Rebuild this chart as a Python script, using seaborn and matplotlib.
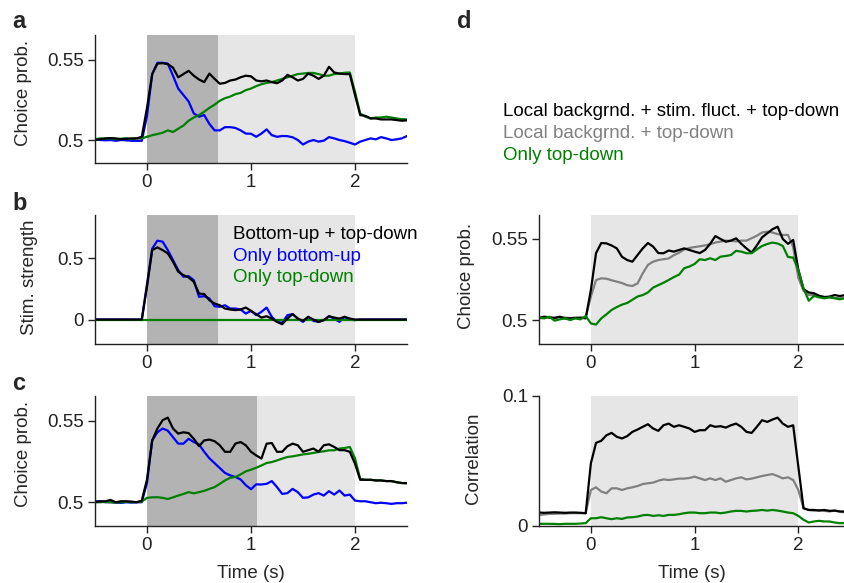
import numpy as np
import matplotlib.pyplot as plt
import seaborn as sns

# time axis (s), sampled every 50 ms
time = np.round(np.arange(-0.5, 2.501, 0.05), 2)

# panel a: choice probability
a_black = [0.500, 0.5005, 0.501, 0.5012, 0.501, 0.5005, 0.5008, 0.501, 0.501, 0.502,
           0.520, 0.541, 0.5475, 0.5478, 0.5472, 0.545, 0.539, 0.541, 0.543, 0.540,
           0.5376, 0.536, 0.5413, 0.538, 0.535, 0.5355, 0.537, 0.5376, 0.539, 0.540,
           0.5396, 0.537, 0.5365, 0.537, 0.536, 0.5353, 0.537, 0.5405, 0.539, 0.537,
           0.538, 0.5413, 0.540, 0.538, 0.540, 0.5455, 0.542, 0.5413, 0.541, 0.541,
           0.528, 0.5155, 0.515, 0.5134, 0.5134, 0.5128, 0.5128, 0.5128, 0.5124, 0.512, 0.5122]
a_blue = [0.5005, 0.500, 0.4998, 0.500, 0.4995, 0.500, 0.4998, 0.4995, 0.4995, 0.4995,
          0.515, 0.541, 0.548, 0.548, 0.5475, 0.540, 0.532, 0.528, 0.524, 0.5165,
          0.5145, 0.5155, 0.510, 0.506, 0.506, 0.508, 0.508, 0.5075, 0.506, 0.504,
          0.5039, 0.502, 0.504, 0.5066, 0.503, 0.502, 0.5025, 0.5024, 0.5017, 0.500,
          0.4972, 0.499, 0.500, 0.499, 0.4996, 0.5018, 0.501, 0.500, 0.4993, 0.4983,
          0.4972, 0.499, 0.500, 0.501, 0.5004, 0.5018, 0.501, 0.500, 0.5004, 0.501, 0.5025]
a_green = [0.5005, 0.501, 0.5008, 0.501, 0.5005, 0.5008, 0.501, 0.5005, 0.501, 0.501,
           0.502, 0.503, 0.5037, 0.5045, 0.506, 0.505, 0.507, 0.509, 0.512, 0.514,
           0.5155, 0.5176, 0.520, 0.522, 0.5244, 0.526, 0.527, 0.5285, 0.5293, 0.531,
           0.532, 0.5335, 0.5347, 0.5355, 0.536, 0.537, 0.538, 0.539, 0.540, 0.541,
           0.5413, 0.5417, 0.5417, 0.541, 0.540, 0.540, 0.541, 0.5413, 0.5418, 0.542,
           0.530, 0.5165, 0.5145, 0.5134, 0.514, 0.514, 0.5145, 0.514, 0.5134, 0.513, 0.5128]

# panel b: stimulus strength
b_black = [0.0] * 10 + [
           0.27, 0.568, 0.59, 0.568, 0.541, 0.473, 0.391, 0.363, 0.344, 0.309,
           0.213, 0.208, 0.158, 0.131, 0.117, 0.09, 0.082, 0.077, 0.082, 0.098,
           0.071, 0.044, 0.016, 0.027, 0.008, -0.019, -0.038, 0.008, 0.044, 0.008,
           -0.011, 0.022, 0.0, -0.019, -0.005, 0.027, 0.016, 0.008, 0.022, 0.008] + [0.0] * 11
b_blue = [0.0] * 10 + [
          0.29, 0.58, 0.645, 0.637, 0.568, 0.486, 0.404, 0.35, 0.355, 0.322,
          0.186, 0.191, 0.172, 0.109, 0.104, 0.117, 0.09, 0.09, 0.082, 0.049,
          0.071, 0.036, 0.063, 0.098, 0.022, -0.019, -0.027, 0.036, 0.044, 0.008,
          -0.019, 0.022, -0.011, -0.019, -0.005, 0.027, 0.008, -0.019, 0.022, 0.0] + [-0.005] + [0.0] * 10
b_green = [0.0] * 61

# panel c: choice probability
c_black = [0.500, 0.5005, 0.5006, 0.5014, 0.500, 0.5006, 0.5006, 0.5004, 0.500, 0.501,
           0.514, 0.538, 0.5453, 0.5504, 0.552, 0.5453, 0.5422, 0.543, 0.5425, 0.539,
           0.5345, 0.538, 0.5385, 0.5375, 0.535, 0.531, 0.531, 0.536, 0.537, 0.535,
           0.531, 0.5288, 0.5268, 0.536, 0.5364, 0.531, 0.531, 0.5344, 0.536, 0.535,
           0.531, 0.532, 0.533, 0.531, 0.535, 0.5356, 0.534, 0.532, 0.532, 0.531,
           0.5237, 0.5138, 0.5138, 0.5138, 0.5134, 0.5134, 0.513, 0.513, 0.5123, 0.5118, 0.5117]
c_blue = [0.5006, 0.5006, 0.500, 0.500, 0.4998, 0.4996, 0.500, 0.4998, 0.500, 0.500,
          0.512, 0.538, 0.543, 0.5453, 0.544, 0.540, 0.536, 0.536, 0.539, 0.537,
          0.5355, 0.531, 0.527, 0.524, 0.521, 0.518, 0.5165, 0.5155, 0.514, 0.5105,
          0.508, 0.511, 0.5109, 0.5113, 0.513, 0.5093, 0.5051, 0.5056, 0.5082, 0.5062,
          0.5027, 0.503, 0.5047, 0.5056, 0.5041, 0.5068, 0.5047, 0.5072, 0.5041, 0.5047,
          0.501, 0.5006, 0.5006, 0.500, 0.4994, 0.4997, 0.4994, 0.499, 0.4994, 0.4994, 0.4997]
c_green = [0.500, 0.500, 0.5002, 0.500, 0.4998, 0.500, 0.5002, 0.500, 0.500, 0.5004,
           0.5027, 0.503, 0.5031, 0.5027, 0.502, 0.503, 0.5041, 0.5051, 0.5062, 0.5055,
           0.5062, 0.507, 0.5082, 0.5093, 0.5113, 0.5134, 0.515, 0.5155, 0.5171, 0.519,
           0.520, 0.5212, 0.5226, 0.5241, 0.5247, 0.5257, 0.5268, 0.5278, 0.5282, 0.5288,
           0.5294, 0.5298, 0.5303, 0.5309, 0.5313, 0.5319, 0.5319, 0.533, 0.5333, 0.534,
           0.527, 0.5144, 0.5138, 0.5138, 0.5134, 0.5134, 0.513, 0.513, 0.5123, 0.5118, 0.5117]

# panel d (top): choice probability
d1_black = [0.501, 0.502, 0.5015, 0.5012, 0.502, 0.501, 0.501, 0.5012, 0.5015, 0.501,
            0.5185, 0.5413, 0.5475, 0.5473, 0.546, 0.5442, 0.539, 0.537, 0.536, 0.5401,
            0.5442, 0.5475, 0.5453, 0.5413, 0.5412, 0.5429, 0.5422, 0.5432, 0.5442, 0.5432,
            0.5422, 0.5413, 0.5432, 0.547, 0.5518, 0.550, 0.5483, 0.549, 0.5504, 0.547,
            0.5442, 0.5416, 0.546, 0.551, 0.5535, 0.556, 0.5576, 0.550, 0.547, 0.5494,
            0.531, 0.519, 0.517, 0.5165, 0.515, 0.514, 0.5145, 0.5154, 0.5148, 0.5154, 0.516]
d1_gray = [0.5015, 0.502, 0.5018, 0.5015, 0.502, 0.5015, 0.5012, 0.5015, 0.5012, 0.5015,
           0.5144, 0.5247, 0.5257, 0.5255, 0.5245, 0.5237, 0.5228, 0.5215, 0.521, 0.5226,
           0.5288, 0.534, 0.536, 0.537, 0.5375, 0.538, 0.540, 0.5415, 0.5435, 0.5445,
           0.545, 0.5455, 0.546, 0.5468, 0.5478, 0.5484, 0.549, 0.5488, 0.5485, 0.549,
           0.549, 0.5505, 0.552, 0.554, 0.5545, 0.554, 0.553, 0.5525, 0.5525, 0.545,
           0.526, 0.518, 0.5154, 0.5154, 0.5148, 0.5144, 0.514, 0.5136, 0.5134, 0.514, 0.514]
d1_green = [0.5014, 0.501, 0.502, 0.4996, 0.5004, 0.501, 0.500, 0.501, 0.5004, 0.5025,
            0.4979, 0.4972, 0.501, 0.5035, 0.5062, 0.508, 0.5095, 0.5105, 0.5125, 0.5145,
            0.5154, 0.517, 0.520, 0.5215, 0.523, 0.5247, 0.5265, 0.528, 0.532, 0.533,
            0.5346, 0.5375, 0.537, 0.5381, 0.537, 0.5391, 0.5395, 0.5401, 0.5427, 0.5422,
            0.5412, 0.5412, 0.5436, 0.5457, 0.5469, 0.5478, 0.5472, 0.5457, 0.5389, 0.5385,
            0.5308, 0.5195, 0.5119, 0.5148, 0.514, 0.5134, 0.514, 0.5134, 0.5128, 0.5134, 0.513]

# panel d (bottom): correlation
d2_black = [0.0100, 0.0098, 0.0100, 0.0102, 0.0100, 0.0098, 0.0100, 0.0100, 0.0098, 0.0095,
            0.048, 0.0638, 0.0654, 0.0697, 0.0715, 0.0685, 0.0672, 0.069, 0.0723, 0.0741,
            0.0762, 0.0782, 0.0749, 0.0731, 0.0774, 0.0787, 0.0762, 0.0774, 0.0762, 0.0749,
            0.0723, 0.0736, 0.0736, 0.0774, 0.0762, 0.0767, 0.0756, 0.0774, 0.0787, 0.0762,
            0.0723, 0.0715, 0.0762, 0.0813, 0.080, 0.0818, 0.0833, 0.0787, 0.0762, 0.0774,
            0.0454, 0.0133, 0.012, 0.012, 0.0115, 0.012, 0.0113, 0.0115, 0.0108, 0.0108, 0.0106]
d2_gray = [0.0082, 0.0085, 0.009, 0.009, 0.0092, 0.0092, 0.0095, 0.0095, 0.0095, 0.0095,
           0.0274, 0.0295, 0.0262, 0.0249, 0.0287, 0.0287, 0.0274, 0.0287, 0.0295, 0.0305,
           0.032, 0.0326, 0.0331, 0.0346, 0.0356, 0.0351, 0.0356, 0.0362, 0.0362, 0.0367,
           0.0377, 0.0364, 0.0351, 0.0364, 0.0351, 0.0364, 0.0338, 0.0351, 0.0364, 0.0372,
           0.0356, 0.0362, 0.0372, 0.0382, 0.039, 0.0397, 0.0382, 0.0364, 0.0372, 0.0351,
           0.0274, 0.0133, 0.012, 0.0115, 0.012, 0.0113, 0.0108, 0.0115, 0.0108, 0.0100, 0.0100]
d2_green = [0.0013, 0.0013, 0.0013, 0.0012, 0.001, 0.0013, 0.0013, 0.0013, 0.0015, 0.0018,
            0.0056, 0.0056, 0.0064, 0.0056, 0.0049, 0.0056, 0.0051, 0.0062, 0.0064, 0.0069,
            0.0079, 0.0082, 0.0074, 0.0079, 0.0074, 0.0082, 0.0082, 0.0087, 0.0095, 0.010,
            0.010, 0.0095, 0.0095, 0.010, 0.010, 0.0095, 0.010, 0.0108, 0.0113, 0.0113,
            0.0108, 0.0113, 0.0115, 0.012, 0.0115, 0.012, 0.0115, 0.0108, 0.010, 0.0095,
            0.0074, 0.0044, 0.0023, 0.0031, 0.0036, 0.0031, 0.0031, 0.0023, 0.0018, 0.0018, 0.0018]

legend_b = ['Bottom-up + top-down', 'Only bottom-up', 'Only top-down']
legend_d = ['Local backgrnd. + stim. fluct. + top-down', 'Local backgrnd. + top-down', 'Only top-down']

BLUE = '#0000ff'
GREEN = '#008000'
GRAY = '#808080'
DARK = '#b3b3b3'
LIGHT = '#e6e6e6'

sns.set_theme(style='ticks')
plt.rcParams['font.family'] = ['Liberation Sans', 'DejaVu Sans']
plt.rcParams.update({
    'font.size': 13.5,
    'axes.labelsize': 13.5,
    'xtick.labelsize': 13.5,
    'ytick.labelsize': 13.5,
    'axes.linewidth': 1.0,
    'axes.edgecolor': '#222222',
    'xtick.major.size': 5,
    'ytick.major.size': 5,
    'xtick.major.width': 1.0,
    'ytick.major.width': 1.0,
    'xtick.major.pad': 3,
    'ytick.major.pad': 3,
    'xtick.color': '#222222',
    'ytick.color': '#222222',
})

fig = plt.figure(figsize=(8.44, 5.83), dpi=100)
W, H = 844, 583


def add_ax(left, top, right, bottom):
    return fig.add_axes([left / W, 1 - bottom / H, (right - left) / W, (bottom - top) / H])


ax_a = add_ax(95, 35, 407, 163)
ax_b = add_ax(95, 215, 407, 344)
ax_c = add_ax(95, 396, 407, 525.5)
ax_d1 = add_ax(539, 215, 844, 344)
ax_d2 = add_ax(539, 396, 844, 525.5)


def draw(ax, series, dark_end=None):
    if dark_end is not None:
        ax.axvspan(0, dark_end, color=DARK, lw=0, zorder=0)
        ax.axvspan(dark_end, 2, color=LIGHT, lw=0, zorder=0)
    else:
        ax.axvspan(0, 2, color=LIGHT, lw=0, zorder=0)
    for vals, col in series:
        sns.lineplot(x=time, y=vals, color=col, linewidth=1.6, ax=ax)
    ax.set_xticks([0, 1, 2])
    ax.set_xticklabels(['0', '1', '2'])
    ax.set_xlabel('')
    sns.despine(ax=ax)


draw(ax_a, [(a_blue, BLUE), (a_green, GREEN), (a_black, 'black')], dark_end=0.685)
draw(ax_b, [(b_blue, BLUE), (b_green, GREEN), (b_black, 'black')], dark_end=0.685)
draw(ax_c, [(c_blue, BLUE), (c_green, GREEN), (c_black, 'black')], dark_end=1.06)
draw(ax_d1, [(d1_gray, GRAY), (d1_black, 'black'), (d1_green, GREEN)])
draw(ax_d2, [(d2_gray, GRAY), (d2_black, 'black'), (d2_green, GREEN)])

for ax in (ax_a, ax_c):
    ax.set_xlim(-0.5, 2.5)
    ax.set_ylim(0.4857, 0.5653)
    ax.set_yticks([0.5, 0.55])
    ax.set_yticklabels(['0.5', '0.55'])
    ax.set_ylabel('Choice prob.')
    ax.yaxis.set_label_coords(-0.202, 0.55)

ax_b.set_xlim(-0.5, 2.5)
ax_b.set_ylim(-0.2, 0.855)
ax_b.set_yticks([0, 0.5])
ax_b.set_yticklabels(['0', '0.5'])
ax_b.set_ylabel('Stim. strength')
ax_b.yaxis.set_label_coords(-0.183, 0.52)
for i, (lab, col) in enumerate(zip(legend_b, ['black', BLUE, GREEN])):
    ax_b.text(0.442, 0.850 - 0.168 * i, lab, color=col, transform=ax_b.transAxes,
              ha='left', va='center', fontsize=13.5, clip_on=False)

ax_d1.set_xlim(-0.5, 2.44)
ax_d1.set_ylim(0.4852, 0.5648)
ax_d1.set_yticks([0.5, 0.55])
ax_d1.set_yticklabels(['0.5', '0.55'])
ax_d1.set_ylabel('Choice prob.')
ax_d1.yaxis.set_label_coords(-0.21, 0.53)

ax_d2.set_xlim(-0.5, 2.44)
ax_d2.set_ylim(0, 0.1)
ax_d2.set_yticks([0, 0.1])
ax_d2.set_yticklabels(['0', '0.1'])
ax_d2.set_ylabel('Correlation')
ax_d2.yaxis.set_label_coords(-0.187, 0.52)

for ax in (ax_c, ax_d2):
    ax.set_xlabel('Time (s)', labelpad=8)

for lab, y, col in zip(legend_d, [111, 133, 156], ['black', GRAY, GREEN]):
    fig.text(503 / W, 1 - y / H, lab, color=col, ha='left', va='center', fontsize=13.5)

for lab, x, y in [('a', 12, 22), ('b', 12, 203), ('c', 12, 384), ('d', 457, 22)]:
    fig.text(x / W, 1 - y / H, lab, ha='left', va='center', fontsize=17, fontweight='bold')

fig.savefig('out.png', dpi=100)
